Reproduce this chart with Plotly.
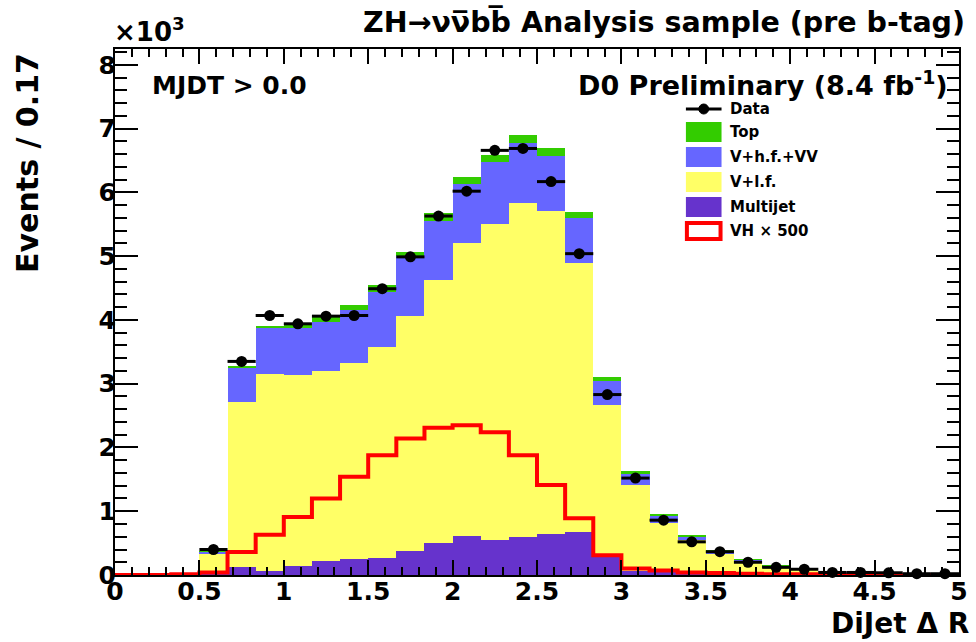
import plotly.graph_objects as go

# ---------------- data (values in units of 10^3 events per 0.17 bin) ----------------
n_bins = 30
bin_width = 5.0 / n_bins
bin_edges = [i * bin_width for i in range(n_bins + 1)]
bin_centers = [(i + 0.5) * bin_width for i in range(n_bins)]

multijet = [0, 0, 0, 0.02, 0.13, 0.07, 0.14, 0.22, 0.25, 0.26, 0.38, 0.50, 0.61, 0.55, 0.60,
            0.65, 0.67, 0.29, 0.06, 0.04, 0.03, 0.02, 0.02, 0.01, 0.01, 0, 0, 0, 0, 0]
v_lf = [0, 0, 0, 0.31, 2.59, 3.08, 3.00, 2.98, 3.07, 3.32, 3.68, 4.12, 4.59, 4.95, 5.24,
        5.06, 4.22, 2.37, 1.35, 0.77, 0.52, 0.32, 0.19, 0.11, 0.07, 0.05, 0.035, 0.025, 0.015, 0.01]
v_hf_vv = [0, 0, 0, 0.035, 0.535, 0.72, 0.74, 0.77, 0.83, 0.86, 0.94, 0.94, 0.94, 0.98, 0.93,
           0.86, 0.71, 0.38, 0.18, 0.12, 0.06, 0.03, 0.03, 0.02, 0.015, 0.01, 0.005, 0.005, 0.005, 0.005]
top = [0, 0, 0, 0.005, 0.015, 0.04, 0.04, 0.07, 0.08, 0.11, 0.07, 0.11, 0.11, 0.11, 0.13,
       0.12, 0.09, 0.06, 0.04, 0.02, 0.02, 0.01, 0.01, 0.005, 0.005, 0, 0, 0, 0, 0]
data = [None, None, None, 0.40, 3.35, 4.07, 3.94, 4.06, 4.07, 4.49, 4.99, 5.63, 6.02, 6.66, 6.69,
        6.17, 5.04, 2.83, 1.52, 0.86, 0.52, 0.365, 0.20, 0.12, 0.09, 0.04, 0.04, 0.035, 0.02, 0.02]
vh_x500 = [0, 0, 0.01, 0.04, 0.36, 0.63, 0.91, 1.20, 1.54, 1.88, 2.14, 2.31, 2.35, 2.24, 1.88,
           1.41, 0.89, 0.31, 0.10, 0.07, 0.04, 0.03, 0.02, 0.01, 0.01, 0, 0, 0, 0, 0]

x_tick_vals = [0, 0.5, 1, 1.5, 2, 2.5, 3, 3.5, 4, 4.5, 5]
x_tick_text = ["0", "0.5", "1", "1.5", "2", "2.5", "3", "3.5", "4", "4.5", "5"]
y_tick_vals = [0, 1, 2, 3, 4, 5, 6, 7, 8]
y_tick_text = ["0", "1", "2", "3", "4", "5", "6", "7", "8"]

legend_names = ["Data", "Top", "V+h.f.+VV", "V+l.f.", "Multijet", "VH \u00d7 500"]

# ---------------- styles ----------------
C_MJ = "#6633CC"
C_LF = "#FFFF66"
C_HF = "#6666FF"
C_TOP = "#33CC00"
FONT = "DejaVu Sans"

# plot area in pixels
L, R, T, B = 115, 968, 49, 575
W_FIG, H_FIG = 976, 642


def px(x):
    return (x - L) / (R - L)


def py(y):
    return (B - y) / (B - T)


fig = go.Figure()

for name, vals, col in [("Multijet", multijet, C_MJ), ("V+l.f.", v_lf, C_LF),
                        ("V+h.f.+VV", v_hf_vv, C_HF), ("Top", top, C_TOP)]:
    fig.add_trace(go.Bar(x=bin_centers, y=vals, width=bin_width, name=name,
                         marker=dict(color=col, line=dict(width=0)), showlegend=False))

fig.add_trace(go.Scatter(x=bin_edges, y=vh_x500 + [vh_x500[-1]], mode="lines",
                         line=dict(color="#FF0000", width=4, shape="hv"), showlegend=False))

fig.add_trace(go.Scatter(x=bin_centers, y=data, mode="markers",
                         marker=dict(color="black", size=11),
                         error_x=dict(type="constant", value=bin_width / 2, thickness=3,
                                      width=0, color="black"),
                         cliponaxis=False, showlegend=False))

axis_common = dict(ticks="inside", tickwidth=2, tickcolor="black", showline=True,
                   linecolor="black", linewidth=2, mirror="allticks", showgrid=False,
                   zeroline=False,
                   tickfont=dict(family=FONT, size=25, color="black", weight="bold"))

fig.update_layout(
    width=W_FIG, height=H_FIG,
    margin=dict(l=L, r=W_FIG - R, t=T, b=H_FIG - B),
    paper_bgcolor="white", plot_bgcolor="white",
    barmode="stack", bargap=0,
    showlegend=False,
    xaxis=dict(range=[0, 5], tickmode="array", tickvals=x_tick_vals, ticktext=x_tick_text,
               ticklen=15, ticklabelstandoff=-7,
               minor=dict(dtick=0.1, tick0=0, ticks="inside", ticklen=8, tickwidth=2,
                          tickcolor="black", showgrid=False),
               **axis_common),
    yaxis=dict(range=[0, 8.25], tickmode="array", tickvals=y_tick_vals, ticktext=y_tick_text,
               ticklen=23, ticklabelstandoff=-8,
               minor=dict(dtick=0.2, tick0=0, ticks="inside", ticklen=12, tickwidth=2,
                          tickcolor="black", showgrid=False),
               **axis_common),
)

ann = []


def text(x, y, s, size, xanchor="left", yanchor="middle", angle=0):
    ann.append(dict(x=px(x), y=py(y), xref="paper", yref="paper", text=s, showarrow=False,
                    xanchor=xanchor, yanchor=yanchor, textangle=angle,
                    font=dict(family=FONT, size=size, color="black", weight="bold")))


text(364, 22, "ZH\u2192\u03bd\u03bd\u0305bb\u0305 Analysis sample (pre b-tag)", 28.5)
text(112, 30, "\u00d710<sup>3</sup>", 26)
text(150, 85, "MJDT > 0.0", 25)
text(959, 83, "D0 Preliminary (8.4 fb<sup>-1</sup>)", 27, xanchor="right")
text(26, 163, "Events / 0.17", 30, xanchor="center", angle=-90)
text(980, 623, "DiJet \u0394 R", 28, xanchor="right")

# custom legend
shapes = []
row_y = [109, 132, 157, 182, 207, 231]
sx0, sx1 = 692, 728
swatch_cols = [None, C_TOP, C_HF, C_LF, C_MJ, None]
for i, (nm, yy) in enumerate(zip(legend_names, row_y)):
    if i == 0:
        shapes.append(dict(type="line", xref="paper", yref="paper", x0=px(sx0), x1=px(sx1),
                           y0=py(yy), y1=py(yy), line=dict(color="black", width=3)))
        shapes.append(dict(type="circle", xref="paper", yref="paper", x0=px(705), x1=px(715),
                           y0=py(yy + 5), y1=py(yy - 5), fillcolor="black",
                           line=dict(color="black", width=1)))
    elif i == 5:
        shapes.append(dict(type="rect", xref="paper", yref="paper", x0=px(sx0 + 1), x1=px(sx1 - 1),
                           y0=py(yy + 8), y1=py(yy - 8), fillcolor="white",
                           line=dict(color="#FF0000", width=4)))
    else:
        shapes.append(dict(type="rect", xref="paper", yref="paper", x0=px(sx0), x1=px(sx1),
                           y0=py(yy + 10), y1=py(yy - 10), fillcolor=swatch_cols[i],
                           line=dict(width=0)))
    text(735, yy, nm, 15)

fig.update_layout(annotations=ann, shapes=shapes)

fig.write_html("out.html")
